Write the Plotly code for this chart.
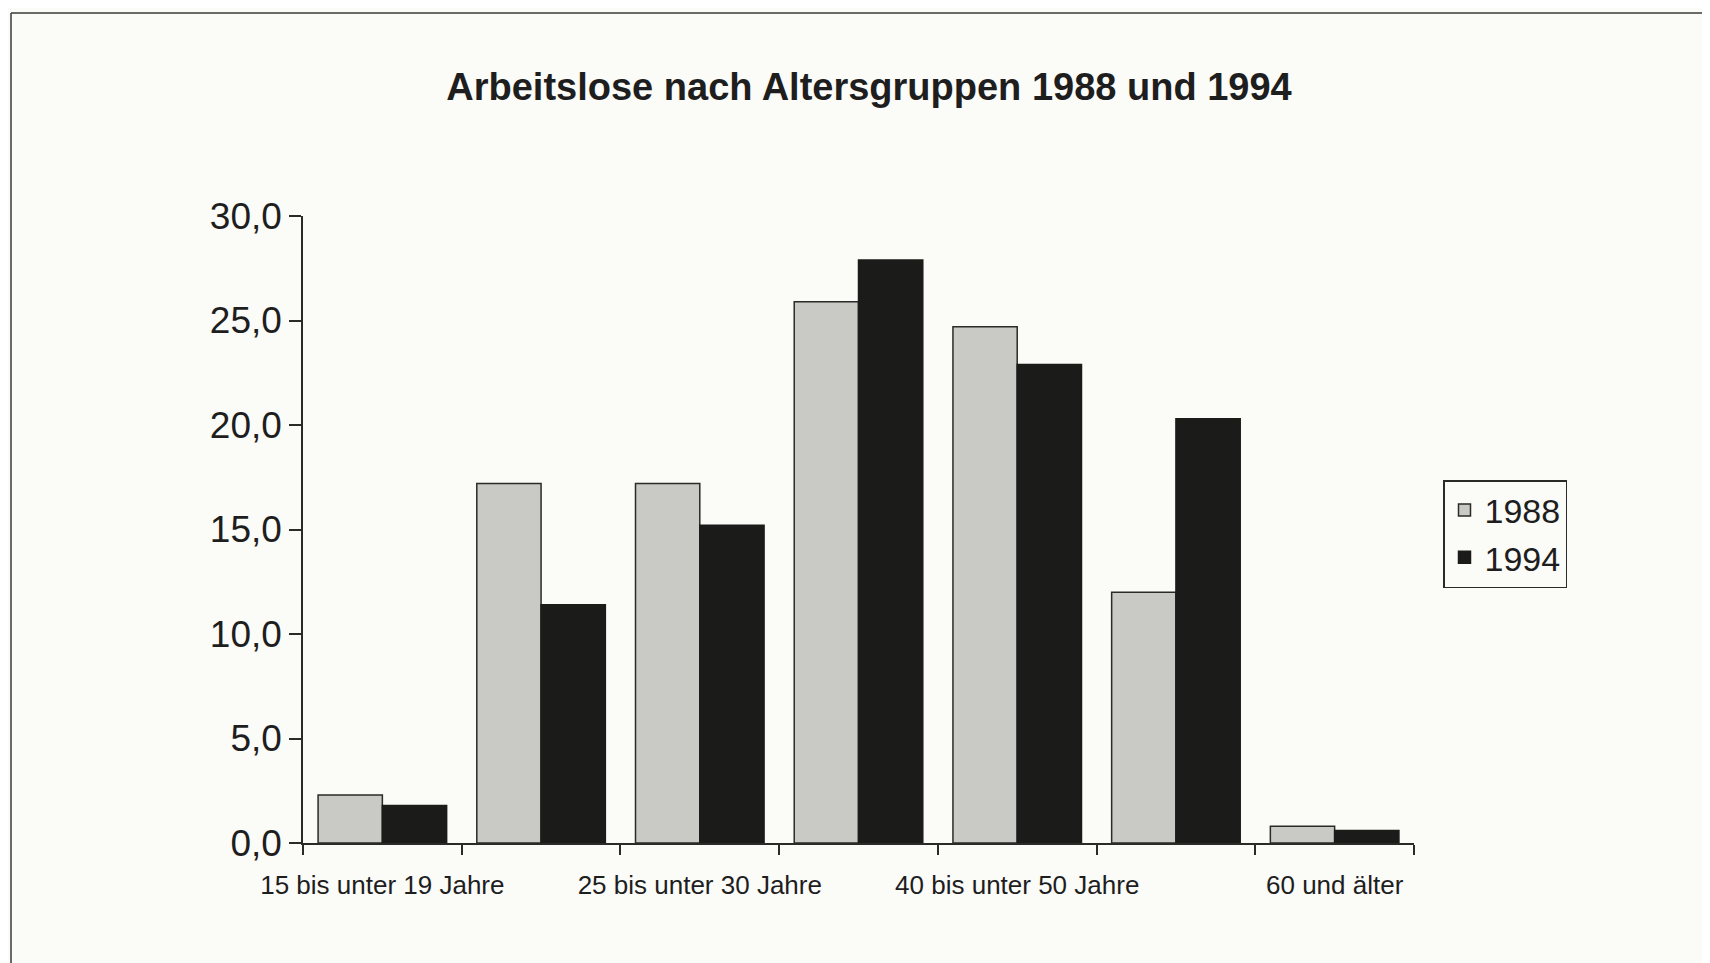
import plotly.graph_objects as go

categories = [
    "15 bis unter 19 Jahre",
    "19 bis unter 25 Jahre",
    "25 bis unter 30 Jahre",
    "30 bis unter 40 Jahre",
    "40 bis unter 50 Jahre",
    "50 bis unter 60 Jahre",
    "60 und älter",
]
shown_labels = [
    "15 bis unter 19 Jahre", "", "25 bis unter 30 Jahre", "",
    "40 bis unter 50 Jahre", "", "60 und älter",
]
values_1988 = [2.3, 17.2, 17.2, 25.9, 24.7, 12.0, 0.8]
values_1994 = [1.8, 11.4, 15.2, 27.9, 22.9, 20.3, 0.6]
y_ticks = [0, 5, 10, 15, 20, 25, 30]

W, H = 1710, 963
OFF = 8  # default body margin of the html page
L, R, T, B = 303 - OFF, 304, 216 - OFF, 128
pw, ph = W - L - R, H - T - B
bg = "#fbfbf8"
font_family = "Liberation Sans, Arial, Helvetica, sans-serif"

fig = go.Figure()
fig.add_trace(go.Bar(
    x=categories, y=values_1988, name="1988",
    marker=dict(color="#c9c9c5", line=dict(color="#2a2a28", width=1.5)),
))
fig.add_trace(go.Bar(
    x=categories, y=values_1994, name="1994",
    marker=dict(color="#1b1c19", line=dict(color="#1b1c19", width=1.5)),
))

fig.update_layout(
    width=W, height=H,
    margin=dict(l=L, r=R, t=T, b=B, autoexpand=False),
    paper_bgcolor=bg, plot_bgcolor=bg,
    barmode="group", bargap=0.19, bargroupgap=0,
    separators=",.",
    font=dict(family=font_family, color="#1e1e1e"),
    title=dict(
        text="<b>Arbeitslose nach Altersgruppen 1988 und 1994</b>",
        x=(869 - OFF) / W, xanchor="center", y=1 - (87 - OFF) / H, yanchor="middle",
        font=dict(size=38, family=font_family, color="#1e1e1e"),
    ),
    legend=dict(
        x=(1443 - OFF - L) / pw, xanchor="left",
        y=(H - B - (480 - OFF)) / ph, yanchor="top",
        bordercolor="#2a2a28", borderwidth=1.5, bgcolor=bg,
        font=dict(size=34, family=font_family, color="#1e1e1e"),
        itemwidth=30, tracegroupgap=0,
    ),
    showlegend=True,
)

fig.update_xaxes(
    type="category", automargin=False,
    tickmode="array", tickvals=categories, ticktext=shown_labels,
    tickangle=0,
    tickson="boundaries", ticks="outside", ticklen=10, tickwidth=1.5,
    tickcolor="#2a2a28",
    showline=True, linecolor="#2a2a28", linewidth=1.5,
    showgrid=False, zeroline=False,
    tickfont=dict(size=26, family=font_family, color="#1e1e1e"),
    ticklabelstandoff=18,
)
fig.update_yaxes(
    range=[0, 30], automargin=False,
    tickmode="array", tickvals=y_ticks, tickformat=".1f",
    ticks="outside", ticklen=12, tickwidth=1.5, tickcolor="#2a2a28",
    showline=True, linecolor="#2a2a28", linewidth=1.5,
    showgrid=False, zeroline=False,
    tickfont=dict(size=37, family=font_family, color="#1e1e1e"),
)

# outer frame of the figure (top and left edges visible)
fx0 = (11 - OFF - L) / pw
fy1 = (H - B - (13 - OFF)) / ph
fig.add_shape(type="line", xref="paper", yref="paper",
              x0=fx0, x1=(W - L) / pw, y0=fy1, y1=fy1,
              line=dict(color="#3a3a38", width=1.5), layer="below")
fig.add_shape(type="line", xref="paper", yref="paper",
              x0=fx0, x1=fx0, y0=-B / ph, y1=fy1,
              line=dict(color="#3a3a38", width=1.5), layer="below")

fig.write_html("out.html")
